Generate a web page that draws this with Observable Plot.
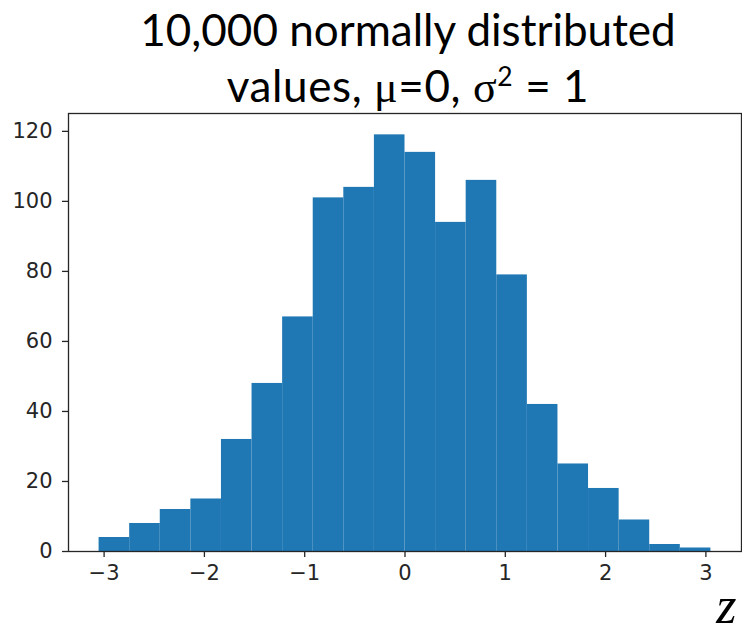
<!DOCTYPE html>
<html>
<head>
<meta charset="utf-8">
<script src="https://cdn.jsdelivr.net/npm/d3@7"></script>
<script src="https://cdn.jsdelivr.net/npm/@observablehq/plot@0.6"></script>
<style>
  html, body { margin: 0; padding: 0; background: #fff; }
  #figure { position: relative; width: 742px; height: 633px; overflow: hidden; }
  #title { position: relative; height: 110px; font-family: Lato, "Open Sans", sans-serif; font-size: 44px; color: #000; }
  #title .line { position: absolute; left: 0; width: 816px; text-align: center; white-space: nowrap; line-height: 1; }
  #title .greek { font-family: "Liberation Serif", "DejaVu Serif", serif; }
  #title sup { font-size: 0.6em; vertical-align: 0; position: relative; top: -0.62em; line-height: 0; }
</style>
</head>
<body>
<div id="figure">
  <div id="title">
    <div class="line" style="top: 7px;">10,000 normally distributed</div>
    <div class="line" style="top: 63px; letter-spacing: 0.6px;">values, <span class="greek">μ</span>=0, <span class="greek">σ</span><sup>2</sup> = 1</div>
  </div>
  <div id="chart"></div>
</div>
<script>
// Histogram of the sample: bin edges and the count in each bin
const binEdges = [-3.05, -2.745, -2.44, -2.135, -1.83, -1.525, -1.22, -0.915, -0.61, -0.305,
                  0, 0.305, 0.61, 0.915, 1.22, 1.525, 1.83, 2.135, 2.44, 2.745, 3.05];
const counts = [4, 8, 12, 15, 32, 48, 67, 101, 104, 119,
                114, 94, 106, 79, 42, 25, 18, 9, 2, 1];
const xTicks = [-3, -2, -1, 0, 1, 2, 3];
const yTicks = [0, 20, 40, 60, 80, 100, 120];
const xLabel = "z";

const bins = counts.map((count, i) => ({x1: binEdges[i], x2: binEdges[i + 1], count}));

const chart = Plot.plot({
  width: 742,
  height: 523,
  marginTop: 3,
  marginBottom: 82,
  marginLeft: 68,
  marginRight: 1,
  style: {fontFamily: "DejaVu Sans", fontSize: "21px", color: "#262626", background: "#fff"},
  x: {domain: [-3.355, 3.355]},
  y: {domain: [0, 125.1]},
  marks: [
    Plot.rectY(bins, {x1: "x1", x2: "x2", y: "count", fill: "#1f77b4", inset: 0}),
    Plot.frame({stroke: "#262626", strokeWidth: 1.3}),
    Plot.axisX({ticks: xTicks, tickFormat: "d", tickSize: 6, tickPadding: 8, fontSize: 21, label: null, strokeWidth: 1.3}),
    Plot.axisY({ticks: yTicks, tickFormat: "d", tickSize: 6, tickPadding: 10, fontSize: 21, label: null, strokeWidth: 1.3}),
    // axis title in the lower right corner
    Plot.text([xLabel], {
      frameAnchor: "bottom-right", text: d => d, dx: -5, dy: 71,
      fontFamily: "Liberation Serif", fontStyle: "italic", fontSize: 52, fill: "#000",
      lineAnchor: "bottom"
    })
  ]
});
document.getElementById("chart").appendChild(chart);
</script>
</body>
</html>
